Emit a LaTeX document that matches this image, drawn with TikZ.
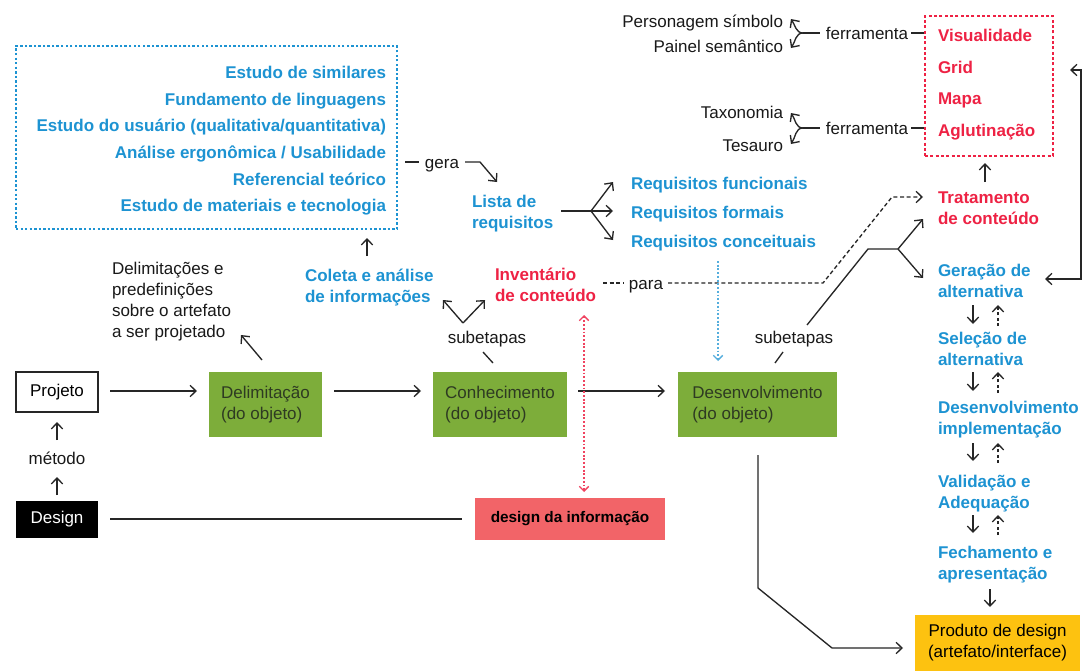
\documentclass[tikz,border=0pt]{standalone}
\usepackage{fontspec}
\setmainfont{Liberation Sans}
\usetikzlibrary{arrows.meta,calc}
\definecolor{cblue}{HTML}{1D93D2}
\definecolor{cred}{HTML}{EE2244}
\definecolor{cgreen}{HTML}{7DAD3A}
\definecolor{cinfo}{HTML}{F26468}
\definecolor{cyel}{HTML}{FDC210}
\definecolor{gtext}{HTML}{2E3A22}
\begin{document}
\begin{tikzpicture}[x=0.75pt,y=-0.75pt,
  every node/.style={font=\fontsize{12.75}{15.75}\selectfont, inner sep=0pt, outer sep=0pt},
  bl/.style={text=cblue, font=\fontsize{12.75}{15.75}\selectfont\bfseries, align=left},
  rd/.style={text=cred, font=\fontsize{12.75}{15.75}\selectfont\bfseries, align=left},
  tx/.style={text=black!90, align=left},
  tip/.tip={Straight Barb[length=4.5pt,width=8.5pt,line width=1pt]},
  conn/.style={line width=1pt, draw=black!85, -tip},
  ln/.style={line width=1pt, draw=black!85},
  dconn/.style={line width=1pt, draw=black!85, dash pattern=on 2.2pt off 1.8pt, -tip},
  gbox/.style={fill=cgreen, text=gtext, align=left, minimum height=48.75pt},
]
\useasboundingbox (0,0) rectangle (1090,671);
\fill[white] (0,0) rectangle (1090,671);

% ---------- blue dashed box with studies ----------
\node[draw=cblue, line width=0.9pt, dash pattern=on 1.8pt off 1.6pt, minimum width=285.75pt, minimum height=137.25pt] (lev) at (206.5,137.5) {};
\node[bl, anchor=base east] (s1) at (386,78) {Estudo de similares};
\node[bl, anchor=base east] (s2) at (386,105) {Fundamento de linguagens};
\node[bl, anchor=base east] (s3) at (386,131.5) {Estudo do usuário (qualitativa/quantitativa)};
\node[bl, anchor=base east] (s4) at (386,158) {Análise ergonômica / Usabilidade};
\node[bl, anchor=base east] (s5) at (386,185) {Referencial teórico};
\node[bl, anchor=base east] (s6) at (386,211) {Estudo de materiais e tecnologia};

% gera
\node[tx, anchor=base] (gera) at (442,168) {gera};
\coordinate (g1) at (405,162);
\coordinate (g2) at (419,162);
\draw[ln] (g1) -- (g2);
\node[bl, anchor=west] (lista) at (472,214) {Lista de\\requisitos};
\coordinate (g3) at (465,162);
\coordinate (g4) at (480,162);
\coordinate (g5) at (497,182);
\draw[conn] (g3) -- (g4) -- (g5);

% requisitos fork
\node[bl, anchor=base west] (r1) at (631,189) {Requisitos funcionais};
\node[bl, anchor=base west] (r2) at (631,218) {Requisitos formais};
\node[bl, anchor=base west] (r3) at (631,247) {Requisitos conceituais};
\coordinate (f0) at (561,211);
\coordinate (f1) at (591,211);
\draw[ln] (f0) -- (f1);
\draw[conn] (f1) -- (613,182);
\draw[conn] (f1) -- (613,211);
\draw[conn] (f1) -- (613,240);

% ---------- top right: tools ----------
\node[tx, anchor=base east] (ps) at (783,27) {Personagem símbolo};
\node[tx, anchor=base east] (pn) at (783,52) {Painel semântico};
\node[tx, anchor=base] (fer1) at (867,40) {ferramenta};
\coordinate (j1) at (803,33);
\draw[ln] (j1) -- (820,33);
\draw[conn] (j1) to[out=180,in=-55] (791,19);
\draw[conn] (j1) to[out=180,in=55] (791,48);
\draw[ln] (911,33) -- (924,33);

\node[tx, anchor=base east] (tax) at (783,118) {Taxonomia};
\node[tx, anchor=base east] (tes) at (783,151) {Tesauro};
\node[tx, anchor=base] (fer2) at (867,134) {ferramenta};
\coordinate (j2) at (803,128);
\draw[ln] (j2) -- (820,128);
\draw[conn] (j2) to[out=180,in=-55] (791,113);
\draw[conn] (j2) to[out=180,in=55] (791,144);
\draw[ln] (911,128) -- (924,128);

% red dashed box
\node[draw=cred, line width=0.9pt, dash pattern=on 2.2pt off 1.8pt, minimum width=96pt, minimum height=105pt] (rbox) at (989,86) {};
\node[rd, anchor=base west] (v1) at (938,41) {Visualidade};
\node[rd, anchor=base west] (v2) at (938,73) {Grid};
\node[rd, anchor=base west] (v3) at (938,104) {Mapa};
\node[rd, anchor=base west] (v4) at (938,136) {Aglutinação};

\node[rd, anchor=west] (trat) at (938,208.5) {Tratamento\\de conteúdo};
\draw[conn] (985,182) -- (985,163);

% ---------- right column ----------
\node[bl, anchor=west] (ger) at (938,281) {Geração de\\alternativa};
\node[bl, anchor=west] (sel) at (938,348.5) {Seleção de\\alternativa};
\node[bl, anchor=west] (dimp) at (938,419.5) {Desenvolvimento\\implementação};
\node[bl, anchor=west] (val) at (938,493.5) {Validação e\\Adequação};
\node[bl, anchor=west] (fec) at (938,564.5) {Fechamento e\\apresentação};

\foreach \a/\b in {305/324, 372/391, 443/461, 515/533}{
  \draw[conn] (973,\a) -- (973,\b);
  \draw[dconn] (998,\b+2) -- (998,\a);
}
\draw[conn] (990,589) -- (990,607);

% loop on the right
\coordinate (lp1) at (1070,70);
\coordinate (lp2) at (1081,70);
\coordinate (lp3) at (1081,279);
\coordinate (lp4) at (1045,279);
\draw[ln, tip-tip] (lp1) -- (lp2) -- (lp3) -- (lp4);

% ---------- main row ----------
\node[draw=black!85, line width=1pt, minimum width=61.5pt, minimum height=30pt] (proj) at (57,392) {Projeto};
\node[tx, anchor=base] (met) at (57,464) {método};
\node[fill=black, text=white, minimum width=61.5pt, minimum height=27.75pt] (des) at (57,519) {Design};
\draw[conn] (57,440) -- (57,422);
\draw[conn] (57,495) -- (57,477);

\node[gbox, minimum width=84.75pt] (delim) at (265.5,404.5) {Delimitação\\(do objeto)};
\node[gbox, minimum width=100.5pt] (conh) at (500,404.5) {Conhecimento\\(do objeto)};
\node[gbox, minimum width=119.25pt] (desv) at (757.5,404.5) {Desenvolvimento\\(do objeto)};

\coordinate (row) at (0,391);
\draw[conn] ([xshift=9pt]proj.east |- row) -- ([xshift=-9pt]delim.west |- row);
\draw[conn] ([xshift=9pt]delim.east |- row) -- ([xshift=-9pt]conh.west |- row);
\draw[conn] ([xshift=8.25pt]conh.east |- row) -- ([xshift=-9.75pt]desv.west |- row);

\node[fill=cinfo, minimum width=142.5pt, minimum height=31.5pt, font=\fontsize{11.5}{14}\selectfont\bfseries] (info) at (570,519) {design da informação};
\draw[ln, line width=1.3pt] ([xshift=9pt]des.east) -- ([xshift=-9.75pt]info.west);

\node[fill=cyel, minimum width=123.75pt, minimum height=42pt, align=center] (prod) at (997.5,643) {Produto de design\\(artefato/interface)};

% Delimitações
\node[tx, anchor=west] (dpre) at (112,302) {Delimitações e\\predefinições\\sobre o artefato\\a ser projetado};
\draw[conn] (262,360) -- (241,335);

% Coleta
\node[bl, anchor=west] (col) at (305,288) {Coleta e análise\\de informações};
\draw[conn] (367,256) -- (367,238);

% subetapas 1
\node[tx, anchor=base] (sub1) at (487,343) {subetapas};
\draw[ln] (483,352) -- (493,363);
\coordinate (v0) at (463,323);
\draw[conn] (v0) -- (443,300);
\draw[conn] (v0) -- (485,300);

% Inventário
\node[rd, anchor=west] (inv) at (495,285) {Inventário\\de conteúdo};
\draw[cred!85, line width=1pt, dash pattern=on 1.4pt off 1.4pt, {Straight Barb[length=3.5pt,width=7pt]}-{Straight Barb[length=3.5pt,width=7pt]}] (584,315) -- (584,492);

% para
\node[tx, anchor=base] (para) at (646,289) {para};
\draw[ln, dash pattern=on 3pt off 2pt] (603,283) -- (624,283);
\coordinate (p1) at (668,283);
\coordinate (p2) at (823,283);
\coordinate (p3) at (892,197);
\coordinate (p4) at (923,197);
\draw[dconn, dash pattern=on 3pt off 2pt] (p1) -- (p2) -- (p3) -- (p4);

% blue dotted arrow
\draw[cblue!75, line width=1pt, dash pattern=on 1.4pt off 1.4pt, -{Straight Barb[length=3.5pt,width=7pt]}] (718,261) -- (718,361);

% subetapas 2
\node[tx, anchor=base] (sub2) at (794,343) {subetapas};
\draw[ln] (775,363) -- (783,352);
\coordinate (w0) at (807,325);
\coordinate (w1) at (868,249);
\coordinate (w2) at (898,249);
\draw[ln] (w0) -- (w1) -- (w2);
\draw[conn] (w2) -- (923,219);
\draw[conn] (w2) -- (923,278);

% desenvolvimento to produto
\coordinate (d1) at (758,455);
\coordinate (d2) at (758,588);
\coordinate (d3) at (832,648);
\draw[conn] (d1) -- (d2) -- (d3) -- ([xshift=-9pt]prod.west |- d3);
\end{tikzpicture}
\end{document}
